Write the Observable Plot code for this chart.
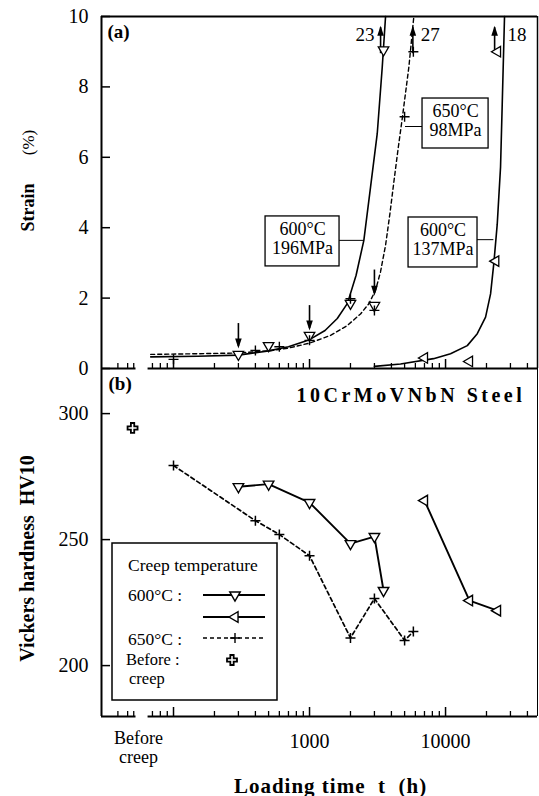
<!DOCTYPE html>
<html><head><meta charset="utf-8">
<script src="https://cdn.jsdelivr.net/npm/d3@7"></script>
<script src="https://cdn.jsdelivr.net/npm/@observablehq/plot@0.6"></script>
<style>
body{margin:0;background:white;}
#chart{position:relative;width:539px;height:796px;}
#chart svg{position:absolute;left:0;}
</style>
</head><body><div id="chart"></div>
<script>
// ---------- data ----------
const timeTicksMajor = [100, 1000, 10000];
const timeTicksMinor = [70, 80, 90, 200, 300, 400, 500, 600, 700, 800, 900, 2000, 3000, 4000, 5000, 6000, 7000, 8000, 9000, 20000, 30000, 40000];
const breakTicks = [39, 46, 51];
const timeTickLabels = [{t: 1000, label: "1000"}, {t: 10000, label: "10000"}];
const beforeCreepT = 50;
const beforeCreepLabel = "Before\ncreep";
const strainTicks = [0, 2, 4, 6, 8, 10];
const hardnessTicks = [200, 250, 300];

// (a) creep curves (loading time h, strain %)
const curve600_196 = [[68,0.33],[150,0.35],[300,0.38],[500,0.5],[700,0.62],[1000,0.82],[1300,1.08],[1600,1.42],[1900,1.85],[2200,2.65],[2508,3.64],[2809,5.15],[3146,6.67],[3424,8.56],[3622,10]];
const curve650_98 = [[68,0.40],[150,0.42],[300,0.44],[500,0.5],[700,0.58],[1000,0.72],[1427,0.94],[1894,1.22],[2371,1.55],[2729,1.84],[3057,2.22],[3327,2.75],[3622,3.5],[3900,4.4],[4200,5.4],[4500,6.3],[4804,7.1],[5373,8.56],[5846,10]];
const curve600_137 = [[3000,0.06],[4670,0.13],[8160,0.28],[10880,0.42],[14450,0.65],[17110,0.99],[19690,1.46],[21430,2.12],[22660,3.0],[23990,4.1],[25370,5.72],[26100,7.5],[27140,10]];

// (a) measured points
const pts600_196 = [[300,0.40],[500,0.65],[1000,0.94],[2000,1.85],[3000,1.79],[3500,9.05]];
const pts650_98 = [[100,0.26],[400,0.51],[600,0.62],[1000,0.8],[2000,1.98],[3000,1.65],[5000,7.15],[5800,9.0]];
const pts600_137 = [[7000,0.3],[15000,0.2],[23400,3.05],[24100,9.0]];

// rupture strain arrows (beyond axis) and interruption arrows
const ruptureArrows = [{t: 3330, from: 9.0, to: 9.74, label: "23"}, {t: 5750, from: 9.0, to: 9.74, label: "27"}, {t: 22950, from: 9.0, to: 9.74, label: "18"}];
const interruptArrows = [{t: 300, from: 1.22, to: 0.57}, {t: 1000, from: 1.73, to: 1.08}, {t: 3000, from: 2.74, to: 2.07}];

// condition boxes in (a)
const condBoxes = [
  {label: "600°C\n196MPa", t1: 475, t2: 1662, s1: 2.90, s2: 4.32, leadS: 3.64, leadT1: 1662, leadT2: 2508},
  {label: "650°C\n98MPa", t1: 6773, t2: 20720, s1: 6.25, s2: 7.67, leadS: 6.875, leadT1: 5077, leadT2: 6773},
  {label: "600°C\n137MPa", t1: 5346, t2: 17180, s1: 2.87, s2: 4.29, leadS: 3.66, leadT1: 17180, leadT2: 22660}
];

// (b) hardness
const hv600_196 = [[300,271],[500,272],[1000,264.7],[2000,248.4],[3000,251.2],[3500,229.8]];
const hv600_137 = [[7000,265.5],[15000,225.8],[24100,221.8]];
const hv650_98 = [[100,279.4],[400,257.5],[600,252],[1000,243.6],[2000,211],[3000,226.6],[5000,210],[5800,213.5]];
const hvBefore = [[beforeCreepT, 294.3]];

// ---------- symbols ----------
const sqrt3 = Math.sqrt(3);
const triDown = {draw(c, size){ const y = -Math.sqrt(size/(sqrt3*3)); c.moveTo(0,-2*y); c.lineTo(sqrt3*y, y); c.lineTo(-sqrt3*y, y); c.closePath(); }};
const triLeft = {draw(c, size){ const y = -Math.sqrt(size/(sqrt3*3)); c.moveTo(2*y,0); c.lineTo(-y, sqrt3*y); c.lineTo(-y, -sqrt3*y); c.closePath(); }};
const plusSym = {draw(c, size){ const k = Math.sqrt(size/Math.PI); c.moveTo(-k,0); c.lineTo(k,0); c.moveTo(0,-k); c.lineTo(0,k); }};
const headUp = {draw(c, size){ const k = Math.sqrt(size/Math.PI)/3; c.moveTo(0,0); c.lineTo(3.3*k,10*k); c.lineTo(-3.3*k,10*k); c.closePath(); }};
const headDown = {draw(c, size){ const k = Math.sqrt(size/Math.PI)/3; c.moveTo(0,0); c.lineTo(3.3*k,-10*k); c.lineTo(-3.3*k,-10*k); c.closePath(); }};

// ---------- layout ----------
const FONT = "'Liberation Serif', 'Times New Roman', serif";
const W = 539;
const xDomain = [29.55, 47430];
const axisSegments = [{x1: xDomain[0], x2: 53}, {x1: 65, x2: xDomain[1]}];
const style = {fontFamily: FONT, fontSize: "20px", background: "none", overflow: "visible"};
const TRI_R = 3.9, PLUS_R = 5;
const frameW = W - 101 - 2;

function timeTicks(frameH) {
  return [
    Plot.tickX(timeTicksMajor, {x: d => d, insetTop: frameH - 9, strokeWidth: 1.5}),
    Plot.tickX(timeTicksMinor, {x: d => d, insetTop: frameH - 5, strokeWidth: 1.3}),
    Plot.tickX(breakTicks, {x: d => d, insetTop: frameH - 5, strokeWidth: 1.3})
  ];
}

// ---------- panel (a) ----------
const hA = 352;
const plotA = Plot.plot({
  width: W, height: 372, marginTop: 16, marginBottom: 4, marginLeft: 101, marginRight: 2,
  x: {type: "log", domain: xDomain, axis: null},
  y: {domain: [0, 10], axis: null},
  style,
  marks: [
    Plot.line(curve600_196, {x: d => d[0], y: d => d[1], stroke: "black", strokeWidth: 1.6}),
    Plot.line(curve650_98, {x: d => d[0], y: d => d[1], stroke: "black", strokeWidth: 1.4, strokeDasharray: "4,3"}),
    Plot.line(curve600_137, {x: d => d[0], y: d => d[1], stroke: "black", strokeWidth: 1.6}),
    Plot.ruleY(condBoxes, {y: "leadS", x1: "leadT1", x2: "leadT2", stroke: "black", strokeWidth: 1}),
    Plot.rect(condBoxes, {x1: "t1", x2: "t2", y1: "s1", y2: "s2", fill: "white", stroke: "black", strokeWidth: 1.3}),
    Plot.text(condBoxes, {x: d => Math.sqrt(d.t1*d.t2), y: d => (d.s1+d.s2)/2, text: "label", fontSize: 18, lineHeight: 1.05, dy: -3}),
    Plot.ruleX(interruptArrows, {x: "t", y1: "from", y2: "to", dy: -2, strokeWidth: 1.6}),
    Plot.dot(interruptArrows, {x: "t", y: "to", symbol: headDown, r: 3, fill: "black", stroke: "none"}),
    Plot.ruleX(ruptureArrows, {x: "t", y1: "from", y2: "to", dy: 2, strokeWidth: 1.6}),
    Plot.dot(ruptureArrows, {x: "t", y: "to", symbol: headUp, r: 3, fill: "black", stroke: "none"}),
    Plot.text(ruptureArrows.filter(d => d.label === "23"), {x: "t", y: 9.29, text: "label", textAnchor: "end", lineAnchor: "bottom", dx: -6, fontSize: 19}),
    Plot.text(ruptureArrows.filter(d => d.label === "27"), {x: "t", y: 9.29, text: "label", textAnchor: "start", lineAnchor: "bottom", dx: 8, fontSize: 19}),
    Plot.text(ruptureArrows.filter(d => d.label === "18"), {x: "t", y: 9.29, text: "label", textAnchor: "start", lineAnchor: "bottom", dx: 13, fontSize: 19}),
    Plot.dot(pts600_196, {x: d => d[0], y: d => d[1], symbol: triDown, r: TRI_R, fill: "white", stroke: "black", strokeWidth: 1.3}),
    Plot.dot(pts600_137, {x: d => d[0], y: d => d[1], symbol: triLeft, r: TRI_R, fill: "white", stroke: "black", strokeWidth: 1.3}),
    Plot.dot(pts650_98, {x: d => d[0], y: d => d[1], symbol: plusSym, r: PLUS_R, fill: "none", stroke: "black", strokeWidth: 1.4}),
    // frame
    Plot.ruleX([xDomain[0]], {strokeWidth: 2}),
    Plot.ruleX([xDomain[1]], {strokeWidth: 1.5}),
    Plot.ruleY([10], {strokeWidth: 2}),
    Plot.ruleY(axisSegments, {y: 0, x1: "x1", x2: "x2", strokeWidth: 2}),
    Plot.tickY(strainTicks, {y: d => d, insetRight: frameW - 9, strokeWidth: 1.5}),
    ...timeTicks(hA),
    Plot.text(strainTicks, {y: d => d, text: d => String(d), frameAnchor: "left", textAnchor: "end", dx: -13, fontSize: 20}),
    Plot.text(["(a)"], {frameAnchor: "top-left", text: d => d, textAnchor: "start", lineAnchor: "bottom", dx: 6, dy: 21, fontSize: 19, fontWeight: "bold"}),
    Plot.text(["Strain"], {frameAnchor: "left", text: d => d, rotate: -90, textAnchor: "middle", lineAnchor: "bottom", dx: -68, dy: 15, fontSize: 18, fontWeight: "bold"}),
    Plot.text(["(%)"], {frameAnchor: "left", text: d => d, rotate: -90, textAnchor: "middle", lineAnchor: "bottom", dx: -68, dy: -50, fontSize: 17})
  ]
});
plotA.style.top = "0px";

// ---------- panel (b) ----------
const yDomB = [179.8, 317.9];
const hB = 348;
const plotB = Plot.plot({
  width: W, height: 432, marginTop: 4, marginBottom: 80, marginLeft: 101, marginRight: 2,
  x: {type: "log", domain: xDomain, axis: null},
  y: {domain: yDomB, axis: null},
  style,
  marks: [
    Plot.line(hv600_196, {x: d => d[0], y: d => d[1], stroke: "black", strokeWidth: 1.9}),
    Plot.line(hv600_137, {x: d => d[0], y: d => d[1], stroke: "black", strokeWidth: 1.9}),
    Plot.line(hv650_98, {x: d => d[0], y: d => d[1], stroke: "black", strokeWidth: 1.7, strokeDasharray: "4,3"}),
    Plot.dot(hv600_196, {x: d => d[0], y: d => d[1], symbol: triDown, r: TRI_R, fill: "white", stroke: "black", strokeWidth: 1.4}),
    Plot.dot(hv600_137, {x: d => d[0], y: d => d[1], symbol: triLeft, r: TRI_R, fill: "white", stroke: "black", strokeWidth: 1.4}),
    Plot.dot(hv650_98, {x: d => d[0], y: d => d[1], symbol: plusSym, r: PLUS_R, fill: "none", stroke: "black", strokeWidth: 1.5}),
    Plot.dot(hvBefore, {x: d => d[0], y: d => d[1], symbol: "cross", r: 4.2, fill: "white", stroke: "black", strokeWidth: 1.8}),
    // frame
    Plot.ruleX([xDomain[0]], {strokeWidth: 2}),
    Plot.ruleX([xDomain[1]], {strokeWidth: 1}),
    Plot.ruleY(axisSegments, {y: yDomB[0], x1: "x1", x2: "x2", strokeWidth: 2}),
    Plot.tickY(hardnessTicks, {y: d => d, insetRight: frameW - 9, strokeWidth: 1.5}),
    ...timeTicks(hB),
    Plot.text(hardnessTicks, {y: d => d, text: d => String(d), frameAnchor: "left", textAnchor: "end", dx: -13, fontSize: 20}),
    Plot.text(timeTickLabels, {x: "t", text: "label", frameAnchor: "bottom", lineAnchor: "bottom", dy: 31, fontSize: 20}),
    Plot.text([{t: beforeCreepT, label: beforeCreepLabel}], {x: "t", text: "label", frameAnchor: "bottom", lineAnchor: "bottom", dx: 6, dy: 46, fontSize: 18, lineHeight: 1.05}),
    Plot.text(["(b)"], {frameAnchor: "top-left", text: d => d, textAnchor: "start", lineAnchor: "bottom", dx: 7, dy: 21, fontSize: 19, fontWeight: "bold"}),
    Plot.text(["10CrMoVNbN Steel"], {frameAnchor: "top-left", text: d => d, textAnchor: "start", lineAnchor: "bottom", dx: 195, dy: 33, fontSize: 20, fontWeight: "bold"}),
    Plot.text(["Vickers hardness\u00a0\u00a0HV10"], {frameAnchor: "left", text: d => d, rotate: -90, textAnchor: "middle", lineAnchor: "bottom", dx: -68, dy: 16, fontSize: 20, fontWeight: "bold"}),
    Plot.text(["Loading time\u00a0\u00a0t\u00a0\u00a0(h)"], {frameAnchor: "bottom", text: d => d, textAnchor: "middle", lineAnchor: "bottom", dx: 11, dy: 76, fontSize: 21, fontWeight: "bold"})
  ]
});
plotB.style.top = "364px";

// letter spacing for spaced titles
d3.select(plotB).selectAll("text").filter(function(){ return this.textContent.startsWith("10CrMo"); }).attr("letter-spacing", "3.5px");
d3.select(plotB).selectAll("text").filter(function(){ return this.textContent.startsWith("Loading"); }).attr("letter-spacing", "1px");

// legend inside panel (b)
const off = 364;
const lg = d3.select(plotB).append("g").attr("font-family", FONT).attr("font-size", 17.5).attr("fill", "black").attr("text-anchor", "start");
lg.append("rect").attr("x", 112).attr("y", 543 - off).attr("width", 165).attr("height", 157).attr("fill", "white").attr("stroke", "black").attr("stroke-width", 1.5);
const legText = (x, y, s) => lg.append("text").attr("x", x).attr("y", y - off).attr("text-anchor", "start").text(s);
legText(128, 571, "Creep temperature");
legText(128, 601, "600°C :");
legText(128, 645, "650°C :");
const bt = lg.append("text").attr("x", 126).attr("y", 665 - off).attr("text-anchor", "start").attr("font-size", 16.5);
bt.append("tspan").attr("x", 126).text("Before :");
bt.append("tspan").attr("x", 129).attr("dy", 19).text("creep");
const legRows = [
  {y: 595, sym: triDown, r: TRI_R, fill: "white", dash: null, sw: 1.9},
  {y: 617, sym: triLeft, r: TRI_R, fill: "white", dash: null, sw: 1.9},
  {y: 638, sym: plusSym, r: PLUS_R, fill: "none", dash: "4,3", sw: 1.5}
];
for (const row of legRows) {
  lg.append("line").attr("x1", 203).attr("x2", 265).attr("y1", row.y - off).attr("y2", row.y - off)
    .attr("stroke", "black").attr("stroke-width", row.sw).attr("stroke-dasharray", row.dash);
  lg.append("path").attr("transform", `translate(235,${row.y - off})`).attr("d", d3.symbol(row.sym, Math.PI*row.r*row.r)())
    .attr("fill", row.fill).attr("stroke", "black").attr("stroke-width", 1.4);
}
lg.append("path").attr("transform", `translate(232,${660 - off})`).attr("d", d3.symbol(d3.symbolCross, Math.PI*4.2*4.2)())
  .attr("fill", "white").attr("stroke", "black").attr("stroke-width", 1.8);

const chart = document.getElementById("chart");
chart.appendChild(plotA);
chart.appendChild(plotB);
</script>
</body></html>
